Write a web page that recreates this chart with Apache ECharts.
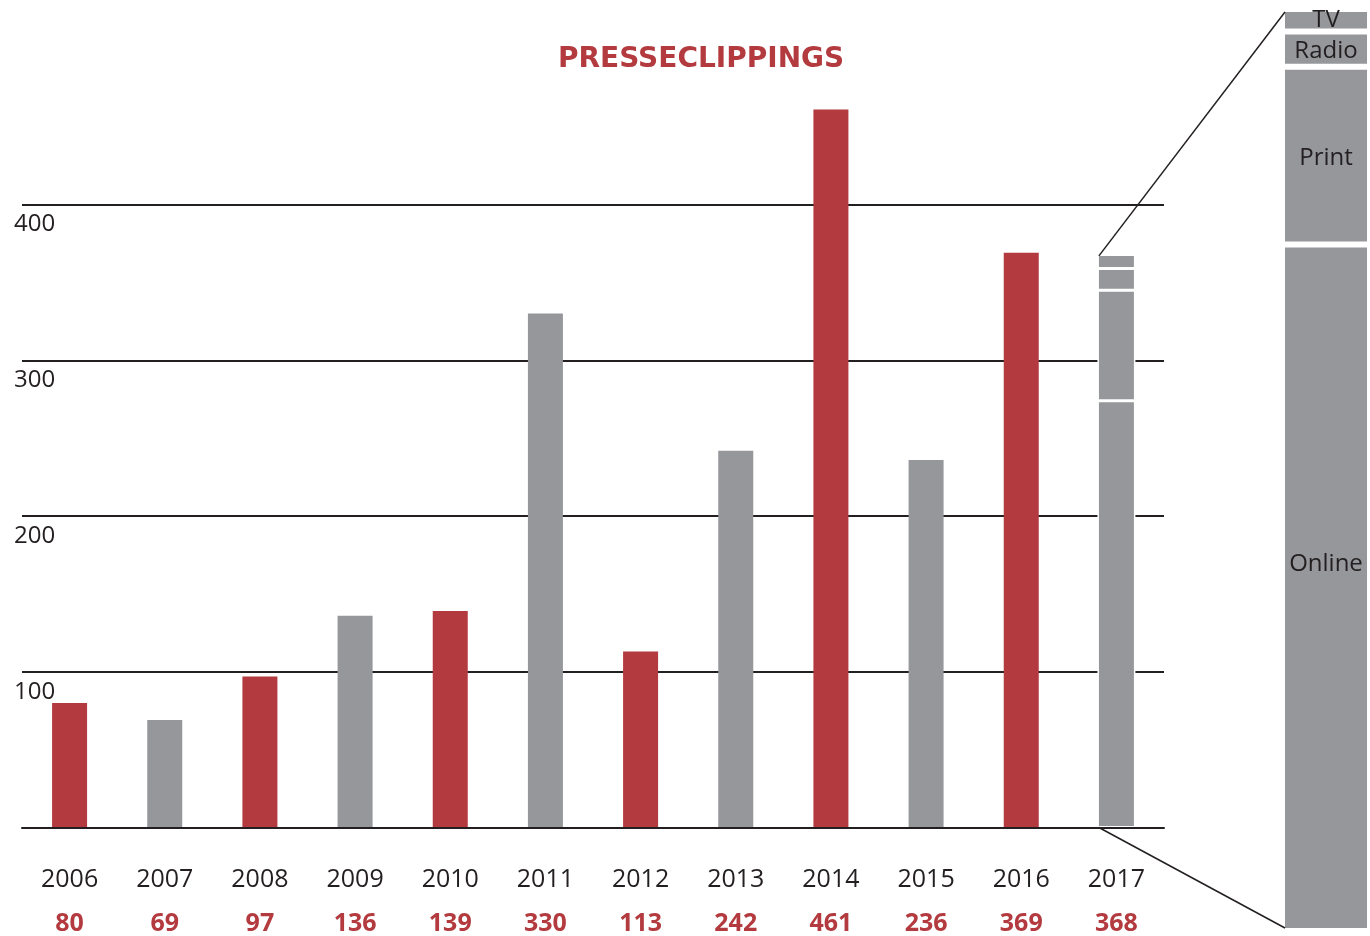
<!DOCTYPE html>
<html><head><meta charset="utf-8">
<script src="https://cdn.jsdelivr.net/npm/echarts@6/dist/echarts.min.js"></script>
<style>html,body{margin:0;padding:0;background:#fff}#c{width:1370px;height:936px}</style>
</head><body><div id="c"></div>
<script>
const years = ['2006','2007','2008','2009','2010','2011','2012','2013','2014','2015','2016','2017'];
const totals = [80, 69, 97, 136, 139, 330, 113, 242, 461, 236, 369, 368];
const mediaTypes = ['Online', 'Print', 'Radio', 'TV'];
const media2017 = [274, 71, 14, 9];
const titleText = 'PRESSECLIPPINGS';

const RED = '#b33a3e', GRAY = '#96979b', INK = '#231f20';
const FONT = '"Open Sans", "DejaVu Sans", sans-serif';
const splitIndex = years.indexOf('2017');
const mediaTotal = media2017.reduce((a, b) => a + b, 0);
// ECharts insets bar shapes by the border width, so visible size = width - 2*border
const mainBarW = 35, segBorder = 1.5, panelBorder = 3;

const labelStyles = {
  TV: { position: 'inside', offset: [0, 0] },
  Radio: { position: 'inside', offset: [0, 2] },
  Print: { position: 'insideTop', distance: 80 },
  Online: { position: 'inside', offset: [0, -24] }
};

const series = [{
  type: 'bar', xAxisIndex: 0, yAxisIndex: 0, barWidth: mainBarW,
  data: totals.map((v, i) => i === splitIndex ? '-' : v),
  itemStyle: { color: p => p.dataIndex % 2 === 0 ? RED : GRAY },
  silent: true
}];
mediaTypes.forEach((m, k) => {
  series.push({
    type: 'bar', name: m, stack: 's2017', xAxisIndex: 1, yAxisIndex: 0,
    barWidth: mainBarW + 2 * segBorder,
    data: years.map((y, i) => i === splitIndex ? media2017[k] : '-'),
    itemStyle: { color: GRAY, borderColor: '#fff', borderWidth: segBorder },
    silent: true
  });
});
mediaTypes.forEach((m, k) => {
  series.push({
    type: 'bar', name: m, stack: 'panel', xAxisIndex: 2, yAxisIndex: 1,
    barCategoryGap: '0%',
    data: [media2017[k]],
    itemStyle: { color: GRAY, borderColor: '#fff', borderWidth: panelBorder },
    label: Object.assign({ show: true, formatter: '{a}', color: INK, fontSize: 24, fontFamily: FONT }, labelStyles[m]),
    silent: true
  });
});

const chart = echarts.init(document.getElementById('c'));
chart.setOption({
  backgroundColor: '#fff',
  animation: false,
  title: { text: titleText, left: 553, top: 41,
    textStyle: { color: RED, fontSize: 28, fontWeight: 'bold', fontFamily: '"DejaVu Sans", sans-serif' } },
  grid: [
    { left: 22, right: 206, top: 80, bottom: 107 },
    { left: 1285 - panelBorder, right: 0, top: 12 - panelBorder, bottom: 8 - panelBorder }
  ],
  xAxis: [
    { type: 'category', gridIndex: 0, data: years, z: 5,
      axisLine: { show: true, lineStyle: { color: INK, width: 2 } },
      axisTick: { show: false },
      axisLabel: { margin: 30, interval: 0,
        formatter: (v, i) => '{y|' + v + '}\n{v|' + totals[i] + '}',
        rich: {
          y: { fontSize: 25, color: INK, lineHeight: 44, fontFamily: FONT },
          v: { fontSize: 25, color: RED, fontWeight: 'bold', lineHeight: 44, fontFamily: FONT }
        } } },
    { type: 'category', gridIndex: 0, data: years, show: false },
    { type: 'category', gridIndex: 1, data: ['2017'], show: false }
  ],
  yAxis: [
    { type: 'value', gridIndex: 0, min: 0, max: 480, interval: 100,
      axisLine: { show: false }, axisTick: { show: false },
      splitLine: { show: true, showMaxLine: false, lineStyle: { color: INK, width: 2 } },
      axisLabel: { showMinLabel: false, showMaxLabel: false, align: 'left', margin: 8,
        verticalAlign: 'top', padding: [8, 0, 0, 0],
        color: INK, fontSize: 24, fontFamily: FONT } },
    { type: 'value', gridIndex: 1, min: 0, max: mediaTotal, show: false }
  ],
  series: series
});

// connector lines from the 2017 bar to the breakdown panel
const cx = chart.convertToPixel({ xAxisIndex: 1 }, '2017');
const barLeft = cx - mainBarW / 2;
const barTop = chart.convertToPixel({ yAxisIndex: 0 }, totals[splitIndex]) + segBorder;
const barBottom = chart.convertToPixel({ yAxisIndex: 0 }, 0);
let rect;
try { rect = chart.getModel().getComponent('grid', 1).coordinateSystem.getRect(); } catch (e) { rect = null; }
if (rect) {
  const pl = rect.x + panelBorder;
  const pt = chart.convertToPixel({ yAxisIndex: 1 }, mediaTotal) + panelBorder;
  const pb = chart.convertToPixel({ yAxisIndex: 1 }, 0) - panelBorder;
  chart.setOption({ graphic: [
    { type: 'line', silent: true, z: 10, shape: { x1: barLeft, y1: barTop, x2: pl, y2: pt }, style: { stroke: INK, lineWidth: 1.5 } },
    { type: 'line', silent: true, z: 10, shape: { x1: barLeft, y1: barBottom, x2: pl, y2: pb }, style: { stroke: INK, lineWidth: 1.5 } }
  ] });
}
</script></body></html>
